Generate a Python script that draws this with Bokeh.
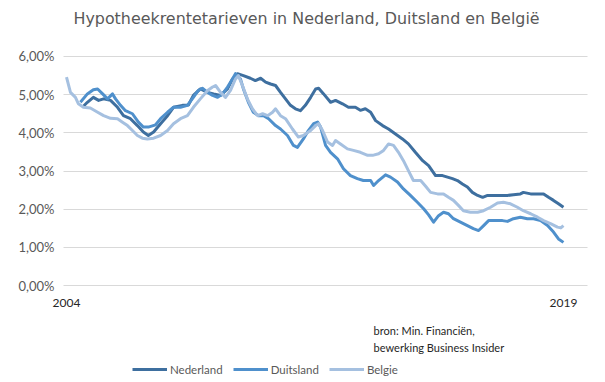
from bokeh.plotting import figure
from bokeh.models import Range1d, FixedTicker, Label, Legend
from bokeh.embed import file_html
from bokeh.resources import INLINE

title = "Hypotheekrentetarieven in Nederland, Duitsland en België"
y_ticks = [0, 1, 2, 3, 4, 5, 6]
y_tick_labels = ["0,00%", "1,00%", "2,00%", "3,00%", "4,00%", "5,00%", "6,00%"]
x_ticks = [2004, 2019]
x_tick_labels = ["2004", "2019"]
source_lines = ["bron: Min. Financiën,", "bewerking Business Insider"]

nl_t = [0.48, 0.63, 0.81, 0.97, 1.12, 1.33, 1.54, 1.72, 1.93, 2.14, 2.32, 2.47, 2.63, 2.84, 3.05, 3.23,
        3.50, 3.68, 3.83, 4.04, 4.26, 4.44, 4.65, 4.86, 5.01, 5.16, 5.34, 5.55, 5.70, 5.86, 6.01, 6.16,
        6.31, 6.46, 6.61, 6.76, 6.91, 7.06, 7.21, 7.37, 7.52, 7.61, 7.76, 7.97, 8.12, 8.33, 8.51, 8.72,
        8.87, 9.02, 9.18, 9.33, 9.54, 9.72, 9.93, 10.14, 10.32, 10.53, 10.75, 10.93, 11.14, 11.35, 11.50,
        11.65, 11.80, 11.95, 12.10, 12.25, 12.41, 12.56, 12.71, 12.89, 13.10, 13.31, 13.49, 13.70, 13.79,
        14.01, 14.22, 14.40, 14.55, 14.70, 14.85, 15.00]
nl_v = [4.67, 4.80, 4.93, 4.85, 4.89, 4.85, 4.67, 4.45, 4.37, 4.19, 4.02, 3.93, 4.02, 4.24, 4.45, 4.67,
        4.72, 4.73, 4.98, 5.15, 5.06, 5.02, 4.98, 5.15, 5.41, 5.55, 5.50, 5.43, 5.37, 5.43, 5.33, 5.28,
        5.24, 5.06, 4.89, 4.72, 4.63, 4.58, 4.72, 4.93, 5.15, 5.17, 5.02, 4.80, 4.85, 4.76, 4.67, 4.67,
        4.59, 4.63, 4.54, 4.32, 4.19, 4.10, 3.97, 3.84, 3.71, 3.49, 3.27, 3.14, 2.88, 2.88, 2.84,
        2.80, 2.75, 2.66, 2.58, 2.44, 2.36, 2.31, 2.36, 2.36, 2.36, 2.36, 2.38, 2.40, 2.44,
        2.40, 2.40, 2.40, 2.31, 2.23, 2.14, 2.05]

de_t = [0.42, 0.63, 0.81, 0.94, 1.09, 1.24, 1.39, 1.48, 1.63, 1.78, 1.99, 2.17, 2.32, 2.47, 2.69, 2.84,
        3.05, 3.23, 3.44, 3.65, 3.83, 3.98, 4.10, 4.26, 4.41, 4.56, 4.71, 4.86, 5.01, 5.10, 5.25, 5.34,
        5.49, 5.64, 5.80, 5.95, 6.10, 6.31, 6.46, 6.67, 6.85, 6.97, 7.15, 7.30, 7.46, 7.58, 7.67, 7.82,
        7.97, 8.18, 8.36, 8.57, 8.78, 8.96, 9.18, 9.27, 9.42, 9.63, 9.78, 9.99, 10.17, 10.38, 10.59,
        10.78, 10.93, 11.08, 11.23, 11.38, 11.53, 11.68, 11.89, 12.10, 12.28, 12.44, 12.59, 12.74, 12.95,
        13.16, 13.31, 13.49, 13.70, 13.91, 14.10, 14.31, 14.52, 14.70, 14.85, 15.00]
de_v = [4.80, 5.02, 5.13, 5.15, 5.02, 4.89, 5.02, 4.89, 4.72, 4.58, 4.50, 4.28, 4.15, 4.15, 4.21, 4.37,
        4.54, 4.67, 4.67, 4.72, 4.93, 5.11, 5.17, 5.06, 4.98, 4.93, 5.02, 5.20, 5.41, 5.55, 5.41, 5.15,
        4.80, 4.54, 4.45, 4.45, 4.37, 4.19, 4.10, 3.93, 3.67, 3.62, 3.84, 4.06, 4.24, 4.28, 4.15, 3.67,
        3.49, 3.32, 3.06, 2.88, 2.80, 2.75, 2.75, 2.62, 2.75, 2.90, 2.84, 2.71, 2.53, 2.36, 2.18,
        2.01, 1.85, 1.66, 1.83, 1.92, 1.88, 1.75, 1.66, 1.57, 1.49, 1.44, 1.57, 1.70, 1.70,
        1.70, 1.68, 1.75, 1.79, 1.75, 1.75, 1.70, 1.57, 1.40, 1.22, 1.13]

be_t = [0.00, 0.12, 0.27, 0.36, 0.51, 0.72, 0.94, 1.12, 1.33, 1.54, 1.69, 1.84, 1.99, 2.14, 2.29, 2.44,
        2.63, 2.84, 3.05, 3.23, 3.44, 3.65, 3.83, 4.04, 4.26, 4.41, 4.50, 4.65, 4.80, 4.95, 5.10, 5.19,
        5.31, 5.46, 5.61, 5.77, 5.92, 6.07, 6.22, 6.31, 6.46, 6.61, 6.82, 7.00, 7.15, 7.37, 7.52, 7.61,
        7.73, 7.88, 8.03, 8.12, 8.27, 8.48, 8.66, 8.87, 9.09, 9.24, 9.42, 9.57, 9.72, 9.87, 10.02,
        10.17, 10.32, 10.47, 10.69, 10.84, 10.99, 11.20, 11.38, 11.53, 11.68, 11.83, 11.98, 12.19, 12.41,
        12.59, 12.80, 13.01, 13.19, 13.40, 13.61, 13.79, 14.01, 14.22, 14.40, 14.61, 14.82, 14.92, 15.00]
be_v = [5.46, 5.06, 4.93, 4.76, 4.67, 4.65, 4.54, 4.45, 4.38, 4.37, 4.28, 4.19, 4.06, 3.93, 3.86, 3.84,
        3.86, 3.93, 4.06, 4.24, 4.37, 4.45, 4.67, 4.89, 5.11, 5.20, 5.24, 5.06, 4.93, 5.11, 5.41, 5.50,
        5.24, 4.89, 4.63, 4.45, 4.50, 4.45, 4.54, 4.63, 4.45, 4.37, 4.10, 3.89, 3.93, 4.06, 4.19, 4.24,
        4.06, 3.76, 3.67, 3.80, 3.71, 3.58, 3.54, 3.49, 3.41, 3.41, 3.45, 3.54, 3.71, 3.67, 3.49,
        3.27, 3.01, 2.75, 2.75, 2.60, 2.44, 2.40, 2.40, 2.31, 2.23, 2.10, 1.96, 1.92, 1.92,
        1.96, 2.05, 2.16, 2.18, 2.14, 2.05, 1.96, 1.88, 1.79, 1.70, 1.62, 1.53, 1.51, 1.57]

start_year = 2004
FONT = "Lato"
GRAY = "#595959"
plot_left = start_year - 0.09     # left end of the value gridlines
plot_right = start_year + 15.726  # right end of the value gridlines

# the frame spans the whole canvas; both axes are pinned inside it
p = figure(width=605, height=382, output_backend="svg", toolbar_location=None,
           x_range=Range1d(start_year - 1.992, start_year + 16.269),
           y_range=Range1d(-2.541, 7.467),
           min_border_left=0, min_border_right=0, min_border_top=0, min_border_bottom=0)
p.title_location = None
p.outline_line_color = None
p.background_fill_color = "white"
p.border_fill_color = "white"

p.xgrid.visible = False
p.ygrid.grid_line_color = "#d9d9d9"
p.ygrid.grid_line_width = 1
p.ygrid.cross_bounds = (plot_left, plot_right)
p.yaxis.ticker = FixedTicker(ticks=y_ticks)
p.yaxis.major_label_overrides = {t: l for t, l in zip(y_ticks, y_tick_labels)}
p.yaxis.fixed_location = plot_left
p.xaxis.ticker = FixedTicker(ticks=x_ticks)
p.xaxis.major_label_overrides = {t: l for t, l in zip(x_ticks, x_tick_labels)}
p.xaxis.fixed_location = 0
for ax in (p.xaxis, p.yaxis):
    ax.axis_line_color = None
    ax.major_tick_line_color = None
    ax.minor_tick_line_color = None
    ax.major_label_text_font = FONT
p.yaxis.major_label_text_font_size = "13px"
p.yaxis.major_label_text_color = GRAY
p.yaxis.major_label_standoff = 3
p.xaxis.major_label_text_font_size = "12px"
p.xaxis.major_label_text_color = "#262626"
p.xaxis.major_label_standoff = 7

series = [
    ("Nederland", nl_t, nl_v, "#3e6f9f"),
    ("Duitsland", de_t, de_v, "#4f90cc"),
    ("Belgie", be_t, be_v, "#a5c0e0"),
]
items = []
for name, t, v, col in series:
    r = p.line([start_year + x for x in t], v, line_color=col, line_width=3, line_join="round")
    items.append((name, [r]))

p.add_layout(Label(x=start_year + 0.21, y=7.008, text=title, text_align="left",
                   text_baseline="middle", text_font="DejaVu Sans", text_font_size="15.9px",
                   text_color=GRAY))
for line, ly in zip(source_lines, [-1.179, -1.624]):
    p.add_layout(Label(x=start_year + 9.27, y=ly, text=line, text_align="left",
                       text_baseline="middle", text_font=FONT, text_font_size="11px",
                       text_color="#262626"))

legend = Legend(items=items, orientation="horizontal", location=(132, 3),
                padding=0, margin=0, spacing=10, glyph_width=35, glyph_height=20,
                label_height=20, label_standoff=3, border_line_color=None,
                background_fill_alpha=0, label_text_font=FONT,
                label_text_font_size="11.5px", label_text_color=GRAY)
p.add_layout(legend, "center")

open("out.html", "w").write(file_html(p, INLINE))
